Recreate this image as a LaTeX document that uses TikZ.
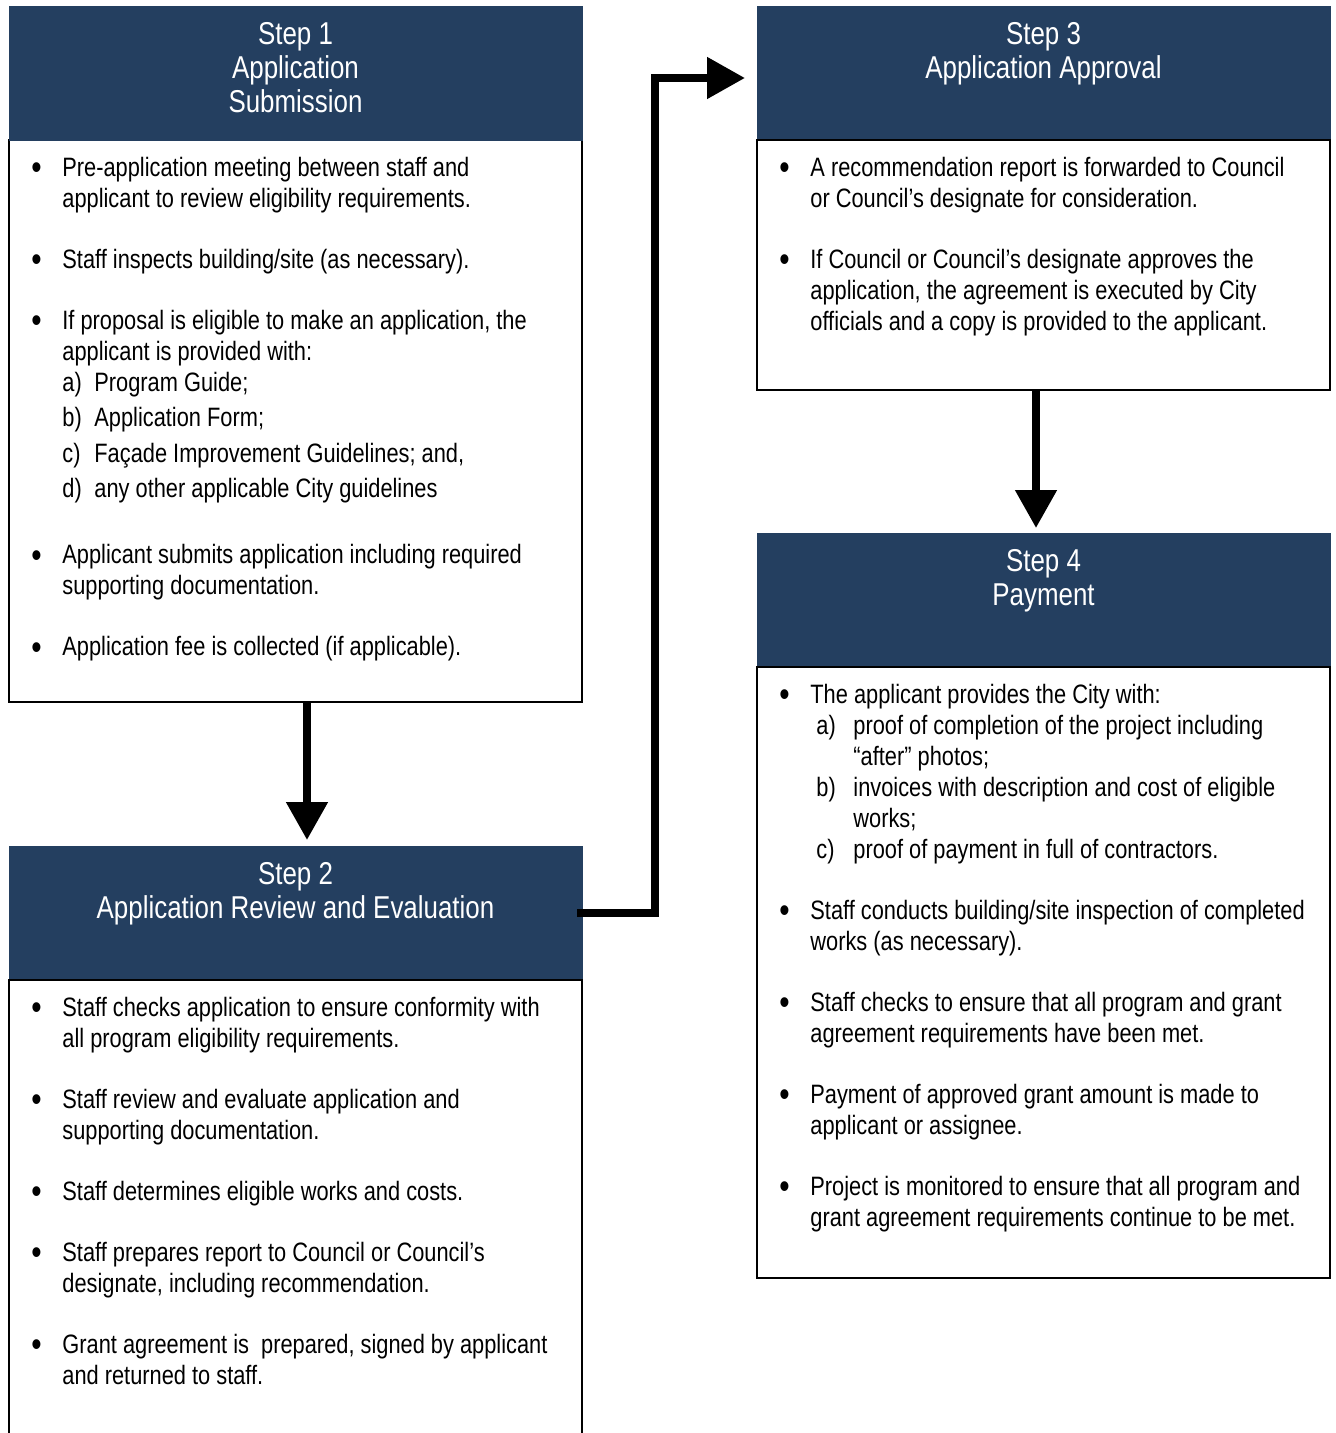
\documentclass[tikz,border=0pt]{standalone}
\usepackage{fontspec}
\setmainfont{Liberation Sans}[FakeStretch=0.82]
\usepackage{enumitem}
\usepackage{tikz}
\usetikzlibrary{positioning,arrows.meta}
\definecolor{StepNavy}{HTML}{243F60}
\newcommand{\narrowspace}{\spaceskip=0.228em\relax}
\newcommand{\stepbullet}{\raisebox{-0.12em}{\scalebox{1.35}{\textbullet}}}
\setlist[itemize]{label=\stepbullet,align=left,leftmargin=26.5pt,labelwidth=10pt,labelsep=5.5pt,
  itemsep=15pt,parsep=0pt,topsep=0pt,partopsep=0pt}
\setlist[enumerate]{label=\alph*),align=left,parsep=0pt,topsep=0pt,partopsep=0pt}

\begin{document}
\begin{tikzpicture}[>={Triangle[length=19pt,width=20pt]},node distance=72pt,x=0.5pt,y=-0.5pt]
    \tikzstyle{stephead}=[fill=StepNavy,draw=StepNavy,minimum width=286.5pt,minimum height=67pt,
      inner sep=0pt,outer sep=0pt]
    \tikzstyle{stepbody}=[draw=black,line width=1pt,minimum width=286.5pt,inner sep=0pt,outer sep=0pt]
    \tikzstyle{headtext}=[text=white,align=center,inner sep=0pt,
      font=\fontsize{15.8}{17}\selectfont,execute at begin node=\narrowspace]
    \tikzstyle{bodytext}=[text width=310pt,align=left,inner sep=0pt,
      font=\fontsize{13.3}{15.5}\selectfont,execute at begin node=\narrowspace]
    \tikzstyle{flow}=[->,line width=4pt]
    \useasboundingbox (0,0) rectangle (1335,1433);
    % left column
    \node[stepbody,minimum height=281pt,anchor=north west] (b1) at (9,140) {};
    \node[stephead,above=0pt of b1] (h1) {};
    \node[stephead,below=of b1] (h2) {};
    \node[stepbody,minimum height=240pt,below=0pt of h2] (b2) {};
    % right column
    \node[stephead,right=87.5pt of h1] (h3) {};
    \node[stepbody,minimum height=125pt,below=0pt of h3] (b3) {};
    \node[stephead,below=71.5pt of b3] (h4) {};
    \node[stepbody,minimum height=305.5pt,below=0pt of h4] (b4) {};
    % titles
    \node[headtext,below=8pt of h1.north] (t1) {Step 1\\Application\\Submission};
    \node[headtext,below=8pt of h2.north] (t2) {Step 2\\Application Review and Evaluation};
    \node[headtext,below=8pt of h3.north] (t3) {Step 3\\Application Approval};
    \node[headtext,below=8pt of h4.north] (t4) {Step 4\\Payment};
    % lists
    \node[bodytext,below right=2.5pt and 0pt of b1.north west] (l1) {%
      \begin{itemize}
        \item Pre-application meeting between staff and\\applicant to review eligibility requirements.
        \item Staff inspects building/site (as necessary).
        \item If proposal is eligible to make an application, the\\applicant is provided with:
          \begin{enumerate}[leftmargin=16pt,labelwidth=12pt,labelsep=4pt,itemsep=2.25pt]
            \item Program Guide;
            \item Application Form;
            \item Façade Improvement Guidelines; and,
            \item any other applicable City guidelines
          \end{enumerate}\vspace{2.5pt}
        \item Applicant submits application including required\\supporting documentation.
        \item Application fee is collected (if applicable).
      \end{itemize}};
    \node[bodytext,below right=2.5pt and 0pt of b2.north west] (l2) {%
      \begin{itemize}
        \item Staff checks application to ensure conformity with\\all program eligibility requirements.
        \item Staff review and evaluate application and\\supporting documentation.
        \item Staff determines eligible works and costs.
        \item Staff prepares report to Council or Council’s\\designate, including recommendation.
        \item Grant agreement is~ prepared, signed by applicant\\and returned to staff.
      \end{itemize}};
    \node[bodytext,below right=2.5pt and 0pt of b3.north west] (l3) {%
      \begin{itemize}
        \item A recommendation report is forwarded to Council\\or Council’s designate for consideration.
        \item If Council or Council’s designate approves the\\application, the agreement is executed by City\\officials and a copy is provided to the applicant.
      \end{itemize}};
    \node[bodytext,below right=2.5pt and 0pt of b4.north west] (l4) {%
      \begin{itemize}
        \item The applicant provides the City with:
          \begin{enumerate}[leftmargin=21.5pt,labelindent=3pt,labelwidth=14.5pt,labelsep=4pt,itemsep=0pt]
            \item proof of completion of the project including\\“after” photos;
            \item invoices with description and cost of eligible\\works;
            \item proof of payment in full of contractors.
          \end{enumerate}
        \item Staff conducts building/site inspection of completed\\works (as necessary).
        \item Staff checks to ensure that all program and grant\\agreement requirements have been met.
        \item Payment of approved grant amount is made to\\applicant or assignee.
        \item Project is monitored to ensure that all program and\\grant agreement requirements continue to be met.
      \end{itemize}};
    % connectors
    \draw[flow] ([xshift=5.75pt]b1.south)--([xshift=5.75pt,yshift=3pt]h2.north);
    \draw[flow] ([xshift=-3.75pt]b3.south)--([xshift=-3.75pt,yshift=2.5pt]h4.north);
    \draw[flow] ([xshift=-2.5pt]h2.east)--++(39pt,0)|-([xshift=-6pt,yshift=-2.5pt]h3.west);
  \end{tikzpicture}
\end{document}
